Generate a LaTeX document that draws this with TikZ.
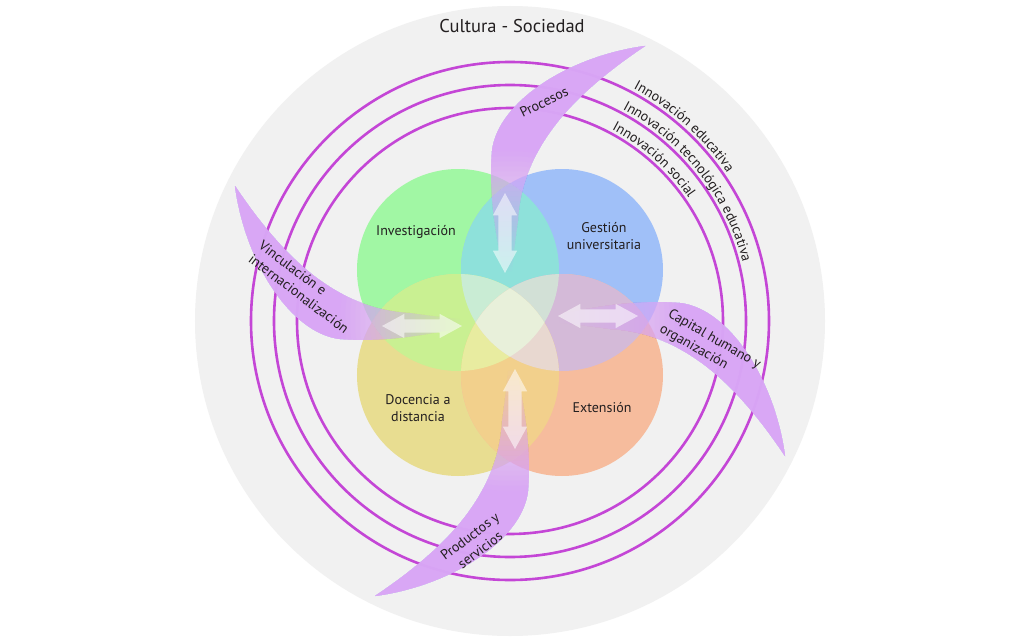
\documentclass[tikz,border=0pt]{standalone}
\usepackage{fontspec}
\setmainfont{PT Sans}
\usepackage{tikz}
\usetikzlibrary{shapes.arrows, decorations.text}

\definecolor{inkcol}{RGB}{35,31,32}
\definecolor{bgcol}{RGB}{241,241,241}
\definecolor{ringcol}{RGB}{196,70,214}
\definecolor{bladecol}{RGB}{217,166,246}
% single areas
\definecolor{invfill}{RGB}{161,247,164}
\definecolor{gesfill}{RGB}{160,192,248}
\definecolor{docfill}{RGB}{232,221,145}
\definecolor{extfill}{RGB}{246,188,157}
% overlaps
\definecolor{invges}{RGB}{142,225,218}
\definecolor{invdoc}{RGB}{201,240,146}
\definecolor{gesext}{RGB}{212,186,216}
\definecolor{docext}{RGB}{242,208,140}
\definecolor{invgesdoc}{RGB}{201,236,212}
\definecolor{invgesext}{RGB}{210,224,214}
\definecolor{invdocext}{RGB}{232,236,160}
\definecolor{gesdocext}{RGB}{232,216,208}
\definecolor{allfour}{RGB}{232,240,218}

\newcommand{\crad}{101}
\newcommand{\ringfont}{\fontsize{14}{16}\selectfont}
\newcommand{\bladepath}{(0,20) .. controls (-12,70) and (-22,120) .. (-18,170)
  .. controls (-12,220) and (60,265) .. (135,275)
  .. controls (65,228) and (12,175) .. (8,100)
  .. controls (3,65) and (1,40) .. (0,20) -- cycle}

\begin{document}
\begin{tikzpicture}[x=1pt,y=1pt,
every node/.style={text=inkcol, inner sep=0pt},
labeltext/.style={font=\fontsize{14}{17}\selectfont},
titletext/.style={font=\fontsize{18.5}{22}\selectfont},
ringline/.style={draw=ringcol, line width=2.6pt},
twoway/.style={double arrow, fill=white, fill opacity=0.55, draw=none,
  inner xsep=0pt, inner ysep=6.5pt, minimum height=80pt, minimum width=0pt,
  double arrow head extend=5.5pt, double arrow tip angle=57}]
\path[fill=white] (-510,-319) rectangle (514,321);
\useasboundingbox (-510,-319) rectangle (514,321);

% Let us start with the society disc and its rings:
\fill[bgcol] (0,0) circle (315);
\node[titletext] (title) at (2,295) {Cultura - Sociedad};
\foreach \rr in {213,236,259}
  \draw[ringline] (0,0) circle (\rr);

% the four areas and their overlaps
\coordinate (inv) at (-52,51);
\coordinate (ges) at (52,51);
\coordinate (doc) at (-52,-54);
\coordinate (ext) at (52,-54);
\foreach \ca/\col in {inv/invfill,ges/gesfill,doc/docfill,ext/extfill}
  \fill[\col] (\ca) circle (\crad);
\foreach \ca/\cb/\col in {inv/ges/invges,inv/doc/invdoc,ges/ext/gesext,doc/ext/docext}
{
\begin{scope}
\clip (\ca) circle (\crad);
\fill[\col] (\cb) circle (\crad);
\end{scope}
}
\foreach \ca/\cb/\cc/\col in {inv/ges/doc/invgesdoc,inv/ges/ext/invgesext,inv/doc/ext/invdocext,ges/doc/ext/gesdocext}
{
\begin{scope}
\clip (\ca) circle (\crad);
\clip (\cb) circle (\crad);
\fill[\col] (\cc) circle (\crad);
\end{scope}
}
\begin{scope}
\clip (inv) circle (\crad);
\clip (ges) circle (\crad);
\clip (doc) circle (\crad);
\fill[allfour] (ext) circle (\crad);
\end{scope}

\node[labeltext] (lbl inv) at (-94,89) {Investigación};
\node[labeltext, align=center] (lbl ges) at (94,85) {Gestión\\universitaria};
\node[labeltext, align=center] (lbl doc) at (-92,-87) {Docencia a\\distancia};
\node[labeltext] (lbl ext) at (92,-87) {Extensión};

% blades, fading in towards the middle
\foreach \ang/\lab in {0/procesos,-90/capital,180/productos,90/vinculacion}
{
\begin{scope}[rotate=\ang]
\begin{scope}
\clip \bladepath;
\foreach \k in {1,...,25}
{
  \pgfmathsetmacro{\rin}{45+5*\k}
  \pgfmathsetmacro{\op}{0.0392/(1-0.0392*(\k-1))}
  \fill[bladecol, fill opacity=\op, even odd rule] (0,0) circle (\rin) (0,0) circle (330);
}
\end{scope}
\node[twoway, rotate=\ang+90] (arrow \lab) at (-5,88) {};
\end{scope}
}

\node[labeltext, rotate=26] (lbl procesos) at (34,219) {Procesos};
\node[labeltext, rotate=-30, align=left] (lbl capital) at (200,-26) {Capital humano y\\organización};
\node[labeltext, rotate=37, align=center] (lbl productos) at (-35,-222) {Productos y\\servicios};
\node[labeltext, rotate=-37, align=left] (lbl vinculacion) at (-206,34) {Vinculación e\\internacionalización};

% ring names
\path[decorate, decoration={text along path, text color=inkcol,
  text={|\ringfont|Innovación social}}]
  (62:217) arc[start angle=62, end angle=0, radius=217];
\path[decorate, decoration={text along path, text color=inkcol,
  text={|\ringfont|Innovación tecnológica educativa}}]
  (62:240) arc[start angle=62, end angle=0, radius=240];
\path[decorate, decoration={text along path, text color=inkcol,
  text={|\ringfont|Innovación educativa}}]
  (62:263) arc[start angle=62, end angle=0, radius=263];
\end{tikzpicture}
\end{document}
